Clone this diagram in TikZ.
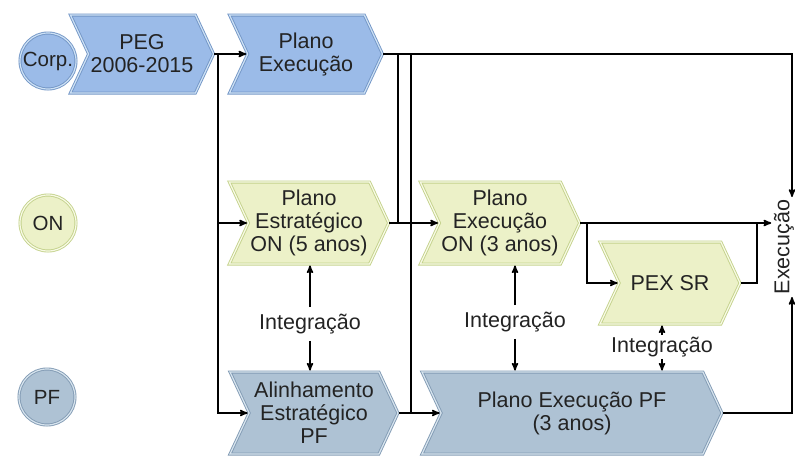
\documentclass[tikz,border=0pt]{standalone}
\usepackage{fontspec}
\setmainfont{Liberation Sans}
\usetikzlibrary{arrows}
\usetikzlibrary{shapes.symbols}
\usetikzlibrary{positioning}

\definecolor{corpfill}{RGB}{155,187,232}
\definecolor{corpline}{RGB}{115,150,198}
\definecolor{corplight}{RGB}{205,225,245}
\definecolor{onfill}{RGB}{236,241,200}
\definecolor{online}{RGB}{196,210,140}
\definecolor{onlight}{RGB}{248,250,230}
\definecolor{pffill}{RGB}{174,194,212}
\definecolor{pfline}{RGB}{130,155,180}
\definecolor{pflight}{RGB}{215,228,238}
\definecolor{textgray}{RGB}{35,35,35}

\tikzset{
  stage/.style={signal, signal from=west, signal to=east, signal pointer angle=130,
    minimum height=82pt, inner sep=2pt, align=center, text=textgray,
    font=\fontsize{21.5}{23}\selectfont, line width=0.9pt, double distance=1.2pt},
  corpstage/.style={stage, fill=corpfill, draw=corpline, double=corplight, minimum height=78pt},
  onstage/.style={stage, fill=onfill, draw=online, double=onlight},
  pfstage/.style={stage, fill=pffill, draw=pfline, double=pflight},
  lane/.style={circle, minimum size=56pt, inner sep=0pt, text=textgray,
    font=\fontsize{20.5}{23}\selectfont, line width=0.9pt, double distance=1.2pt},
  corplane/.style={lane, fill=corpfill, draw=corpline, double=corplight},
  onlane/.style={lane, fill=onfill, draw=online, double=onlight},
  pflane/.style={lane, fill=pffill, draw=pfline, double=pflight},
  note/.style={inner sep=6pt, text=textgray, font=\fontsize{21.5}{23}\selectfont}
}

\begin{document}
\begin{tikzpicture}[x=1pt,y=-1pt,>=stealth',shorten >=1pt,line width=1.6pt]
  \useasboundingbox (0,0) rectangle (795,456);

  % lanes
  \node (corp) [corplane] at (48,61) {Corp.};
  \node (on) [onlane] at (48,223) {ON};
  \node (pf) [pflane] at (47,397) {PF};

  % stages
  \node (peg) [corpstage, minimum width=135pt] at (142,54) {PEG\\2006-2015};
  \node (corpexec) [corpstage, minimum width=153pt] at (306,54) {Plano\\Execução};
  \node (onplan) [onstage, minimum width=158pt] at (309,223) {Plano\\Estratégico\\ON (5 anos)};
  \node (onexec) [onstage, minimum width=159pt] at (500,223) {Plano\\Execução\\ON (3 anos)};
  \node (pex) [onstage, minimum width=140pt] at (670,283) {PEX SR};
  \node (pfalign) [pfstage, minimum width=168pt] at (314,413) {Alinhamento\\Estratégico\\PF};
  \node (pfexec) [pfstage, minimum width=300pt] at (572,413) {Plano Execução PF\\(3 anos)};
  \node (exec) [note, inner sep=1pt, rotate=90] at (784,247) {Execução};

  % integration
  \node (int1) [note] at (310,324) {Integração};
  \node (int2) [note] at (515,322) {Integração};
  \node (int3) [note, inner sep=1pt] at (662,347) {Integração};

  \draw[->] (int1.north) -- (int1.north |- onplan.south);
  \draw[->] (int1.south) -- (int1.south |- pfalign.north);
  \draw[->] (int2.north) -- (int2.north |- onexec.south);
  \draw[->] (int2.south) -- (int2.south |- pfexec.north);
  \draw[->] (int3.north) -- (int3.north |- pex.south);
  \draw[->] (int3.south) -- (int3.south |- pfexec.north);

  % flow
  \coordinate (split) at (218,54);
  \coordinate (b1) at (398,54);
  \coordinate (b2) at (411,54);
  \coordinate (topright) at (792,54);
  \coordinate (fork) at (587,223);
  \coordinate (join) at (757,223);
  \coordinate (botright) at (792,413);

  \draw[->] (peg.east) -- (corpexec.west);
  \draw[->] (split) |- (onplan.west);
  \draw[->] (split) |- (pfalign.west);
  \draw[->] (corpexec.east) -- (topright) -- (topright |- exec.east);
  \draw (b1) -- (b1 |- onplan.east);
  \draw (b2) -- (b2 |- pfalign.east);
  \draw[->] (onplan.east) -- (onexec.west);
  \draw[->] (pfalign.east) -- (pfexec.west);
  \draw[->] (onexec.east) -- (onexec.east -| exec.north);
  \draw[->] (fork) |- (pex.west);
  \draw (pex.east) -| (join);
  \draw[->] (pfexec.east) -- (botright) -- (botright |- exec.west);
\end{tikzpicture}
\end{document}
